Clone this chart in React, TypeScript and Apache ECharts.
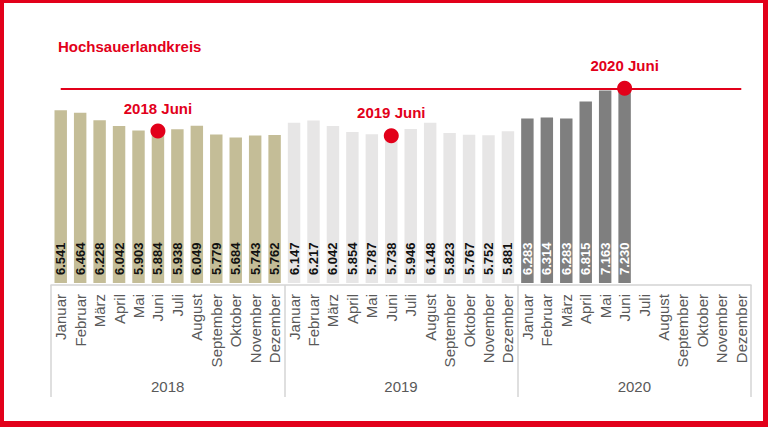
import React, { useEffect, useRef } from "react";
import * as echarts from "echarts";

const title = "Hochsauerlandkreis";
const years = ["2018", "2019", "2020"];
const months = [
  "Januar", "Februar", "März", "April", "Mai", "Juni",
  "Juli", "August", "September", "Oktober", "November", "Dezember",
];
const v2018 = [6541, 6464, 6228, 6042, 5903, 5884, 5938, 6049, 5779, 5684, 5743, 5762];
const v2019 = [6147, 6217, 6042, 5854, 5787, 5738, 5946, 6148, 5823, 5767, 5752, 5881];
const v2020 = [6283, 6314, 6283, 6815, 7163, 7230];
const yearColors = ["#c4bd97", "#e7e6e6", "#7f7f7f"];
const labelColors = ["#111111", "#111111", "#ffffff"];
const highlightMonth = "Juni";

const RED = "#e2001a";
const FONT = "'Liberation Sans', Arial, sans-serif";

const fmt = (v: number) => Math.floor(v / 1000) + "." + String(v % 1000).padStart(3, "0");

export default function App() {
  const ref = useRef<HTMLDivElement>(null);
  useEffect(() => {
    if (!ref.current) return;
    const chart = echarts.init(ref.current, undefined, { renderer: "svg" });
    const series = [v2018, v2019, v2020];
    const keys: string[] = [];
    const data: any[] = [];
    years.forEach((y, yi) => {
      months.forEach((m, mi) => {
        keys.push(y + "-" + (mi + 1));
        const v = series[yi][mi];
        data.push(
          v == null
            ? null
            : {
                value: v,
                itemStyle: { color: yearColors[yi] },
                label: { color: labelColors[yi] },
              }
        );
      });
    });
    const hi = months.indexOf(highlightMonth);
    const markData = years.map((y, yi) => ({
      coord: [y + "-" + (hi + 1), series[yi][hi]],
      label: { formatter: y + " " + highlightMonth },
    }));
    const last = v2020[v2020.length - 1];

    chart.setOption({
      animation: false,
      backgroundColor: "#ffffff",
      title: {
        text: title,
        left: 58,
        top: 39,
        padding: 0,
        textStyle: { color: RED, fontSize: 15, fontWeight: "bold", fontFamily: FONT },
      },
      grid: { left: 51, right: 17, top: 48, bottom: 144 },
      xAxis: [
        {
          type: "category",
          data: keys,
          position: "bottom",
          axisLine: { show: false },
          axisTick: { show: false },
          axisLabel: {
            interval: 0,
            rotate: 90,
            margin: 11,
            color: "#595959",
            fontSize: 15,
            fontFamily: FONT,
            formatter: (_: string, idx: number) => months[idx % 12],
          },
        },
        {
          type: "category",
          data: years,
          position: "bottom",
          offset: 2,
          axisLine: { show: true, lineStyle: { color: "#d4d4d4", width: 1.5 } },
          axisTick: {
            show: true,
            alignWithLabel: false,
            length: 112,
            lineStyle: { color: "#d4d4d4", width: 1.5 },
          },
          axisLabel: {
            margin: 94,
            color: "#595959",
            fontSize: 15,
            fontFamily: FONT,
          },
        },
      ],
      yAxis: {
        type: "value",
        show: false,
        min: 1100,
        max: 8500,
        splitLine: { show: false },
      },
      series: [
        {
          type: "bar",
          xAxisIndex: 0,
          data,
          barCategoryGap: "36%",
          label: {
            show: true,
            position: "insideBottom",
            rotate: 90,
            align: "left",
            verticalAlign: "middle",
            distance: 8,
            fontSize: 13,
            fontWeight: "bold",
            fontFamily: FONT,
            formatter: (p: any) => fmt(p.value),
          },
          markLine: {
            silent: true,
            symbol: "none",
            label: { show: false },
            lineStyle: { color: RED, width: 2, type: "solid" },
            data: [[{ coord: [keys[0], last] }, { coord: [keys[keys.length - 1], last] }]],
          },
          markPoint: {
            symbol: "circle",
            symbolSize: 15,
            itemStyle: { color: RED },
            label: {
              show: true,
              position: "top",
              distance: 8,
              color: RED,
              fontSize: 15,
              fontWeight: "bold",
              fontFamily: FONT,
            },
            data: markData,
          },
        },
      ],
    });
    return () => chart.dispose();
  }, []);

  return (
    <div style={{ position: "fixed", left: 0, top: 0, width: 768, height: 427, background: "#fff" }}>
      <div ref={ref} style={{ position: "absolute", left: 0, top: 0, width: 768, height: 427 }} />
      <div
        style={{
          position: "absolute",
          left: 0,
          top: 0,
          width: 768,
          height: 427,
          boxSizing: "border-box",
          borderStyle: "solid",
          borderColor: RED,
          borderLeftWidth: 4,
          borderTopWidth: 3,
          borderRightWidth: 5,
          borderBottomWidth: 6,
          pointerEvents: "none",
        }}
      />
    </div>
  );
}
